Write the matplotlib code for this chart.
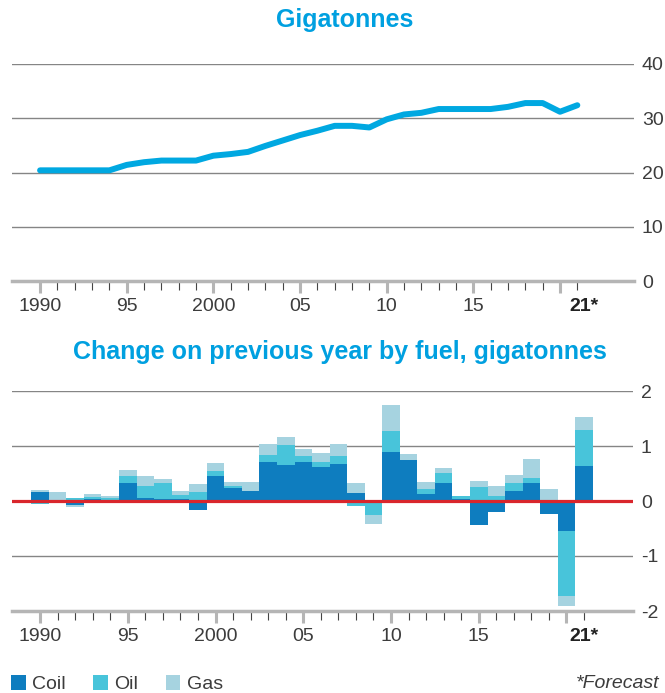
import matplotlib
matplotlib.use("Agg")
import matplotlib.pyplot as plt
from matplotlib.patches import Patch
import numpy as np

plt.rcParams["font.family"] = ["Liberation Sans", "DejaVu Sans"]

# ---------------------------------------------------------------------------
# data
# ---------------------------------------------------------------------------
years = np.arange(1990, 2022)
emissions = [20.4, 20.4, 20.4, 20.4, 20.4, 21.4, 21.9, 22.2, 22.2, 22.2,
             23.1, 23.4, 23.8, 24.9, 25.9, 26.9, 27.7, 28.6, 28.6, 28.3,
             29.8, 30.7, 31.0, 31.7, 31.7, 31.7, 31.7, 32.1, 32.8, 32.8,
             31.2, 32.4]
coal = [0.16, 0.02, -0.08, 0.04, 0.02, 0.33, 0.05, 0.04, 0.04, -0.16,
        0.45, 0.24, 0.18, 0.71, 0.65, 0.71, 0.62, 0.67, 0.15, 0.02,
        0.89, 0.75, 0.13, 0.33, 0.03, -0.44, -0.20, 0.18, 0.33, -0.24,
        -0.55, 0.64]
oil = [-0.06, 0.0, 0.05, 0.03, 0.03, 0.13, 0.22, 0.29, 0.07, 0.16,
       0.09, 0.04, 0.0, 0.13, 0.36, 0.11, 0.09, 0.15, -0.09, -0.25,
       0.38, 0.0, 0.09, 0.18, 0.06, 0.25, 0.09, 0.15, 0.09, 0.02,
       -1.18, 0.65]
gas = [0.04, 0.14, -0.03, 0.06, 0.04, 0.11, 0.18, 0.07, 0.07, 0.15,
       0.16, 0.07, 0.16, 0.20, 0.16, 0.13, 0.16, 0.22, 0.18, -0.16,
       0.47, 0.11, 0.13, 0.09, 0.0, 0.11, 0.18, 0.15, 0.35, 0.20,
       -0.18, 0.24]
fuel_names = ["Coil", "Oil", "Gas"]
major_years = [1990, 1995, 2000, 2005, 2010, 2015, 2020]
major_labels = ["1990", "95", "2000", "05", "10", "15", ""]

# ---------------------------------------------------------------------------
# style
# ---------------------------------------------------------------------------
BLUE_LINE = "#00a8e1"
TITLE = "#00a0e0"
FUEL_COLS = ["#0e7dbf", "#48c4da", "#a6d3e0"]
RED = "#d9262c"
GRID = "#858585"
AXIS = "#b5b5b5"
TXT = "#3c3c3c"
W, H = 665, 693


def style_x(ax, label_dx):
    for s in ("top", "left", "right"):
        ax.spines[s].set_visible(False)
    ax.spines["bottom"].set_color(AXIS)
    ax.spines["bottom"].set_linewidth(2.5)
    ax.set_xticks(major_years)
    ax.set_xticklabels(major_labels)
    ax.set_xticks([y for y in years if y % 5], minor=True)
    ax.tick_params(axis="x", which="major", length=8.5, width=2.2,
                   color=AXIS, pad=4, labelsize=14, labelcolor=TXT)
    ax.tick_params(axis="x", which="minor", length=6.5, width=0.8,
                   color="#444444")
    ax.annotate("21*", xy=(2021, 0), xycoords=("data", "axes fraction"),
                xytext=(label_dx, -12.5), textcoords="offset points",
                ha="center", va="top", fontsize=14, fontweight="bold",
                color="#222222")
    ax.yaxis.tick_right()
    ax.tick_params(axis="y", length=0, pad=5.6, labelsize=14,
                   labelcolor=TXT)
    ax.grid(axis="y", color=GRID, linewidth=1.0)
    ax.set_axisbelow(True)


fig = plt.figure(figsize=(W / 100, H / 100), dpi=100)

# --- top: total emissions ---------------------------------------------------
ax1 = fig.add_axes([12 / W, 1 - 281 / H, 622 / W, 217 / H])
ax1.plot(years, emissions, color=BLUE_LINE, lw=4.3,
         solid_capstyle="round", solid_joinstyle="round", zorder=3)
ax1.set_xlim(1988.38, 2024.27)
ax1.set_ylim(0, 40)
ax1.set_yticks([0, 10, 20, 30, 40])
style_x(ax1, 5)
fig.text(345 / W, 1 - 20 / H, "Gigatonnes", ha="center", va="center",
         fontsize=18, fontweight="bold", color=TITLE)

# --- bottom: change by fuel -------------------------------------------------
ax2 = fig.add_axes([12 / W, 1 - 611 / H, 621 / W, 220 / H])
pos_base = np.zeros(len(years))
neg_base = np.zeros(len(years))
for vals, col in zip([coal, oil, gas], FUEL_COLS):
    v = np.asarray(vals)
    pos = np.clip(v, 0, None)
    neg = np.clip(v, None, 0)
    ax2.bar(years, pos, bottom=pos_base, width=1.0, color=col,
            linewidth=0, zorder=2)
    ax2.bar(years, neg, bottom=neg_base, width=1.0, color=col,
            linewidth=0, zorder=2)
    pos_base += pos
    neg_base += neg
ax2.axhline(0, color=RED, lw=2.3, zorder=4)
ax2.set_xlim(1988.40, 2023.79)
ax2.set_ylim(-2, 2)
ax2.set_yticks([-2, -1, 0, 1, 2])
ax2.set_yticklabels(["-2", "-1", "0", "1", "2"])
style_x(ax2, 0)
fig.text(340 / W, 1 - 352 / H, "Change on previous year by fuel, gigatonnes",
         ha="center", va="center", fontsize=18, fontweight="bold",
         color=TITLE)

# --- legend + footnote ------------------------------------------------------
handles = [Patch(facecolor=c, edgecolor="none") for c in FUEL_COLS]
fig.legend(handles, fuel_names, loc="center left",
           bbox_to_anchor=(11 / W, 1 - 684 / H), ncol=3, frameon=False,
           fontsize=14, handlelength=0.75, handleheight=0.8,
           handletextpad=0.35, columnspacing=1.4, borderpad=0,
           borderaxespad=0, labelcolor=TXT)
fig.text(659 / W, 1 - 683 / H, "*Forecast", ha="right", va="center",
         fontsize=14, style="italic", color=TXT)

fig.savefig("out.png", dpi=100)
